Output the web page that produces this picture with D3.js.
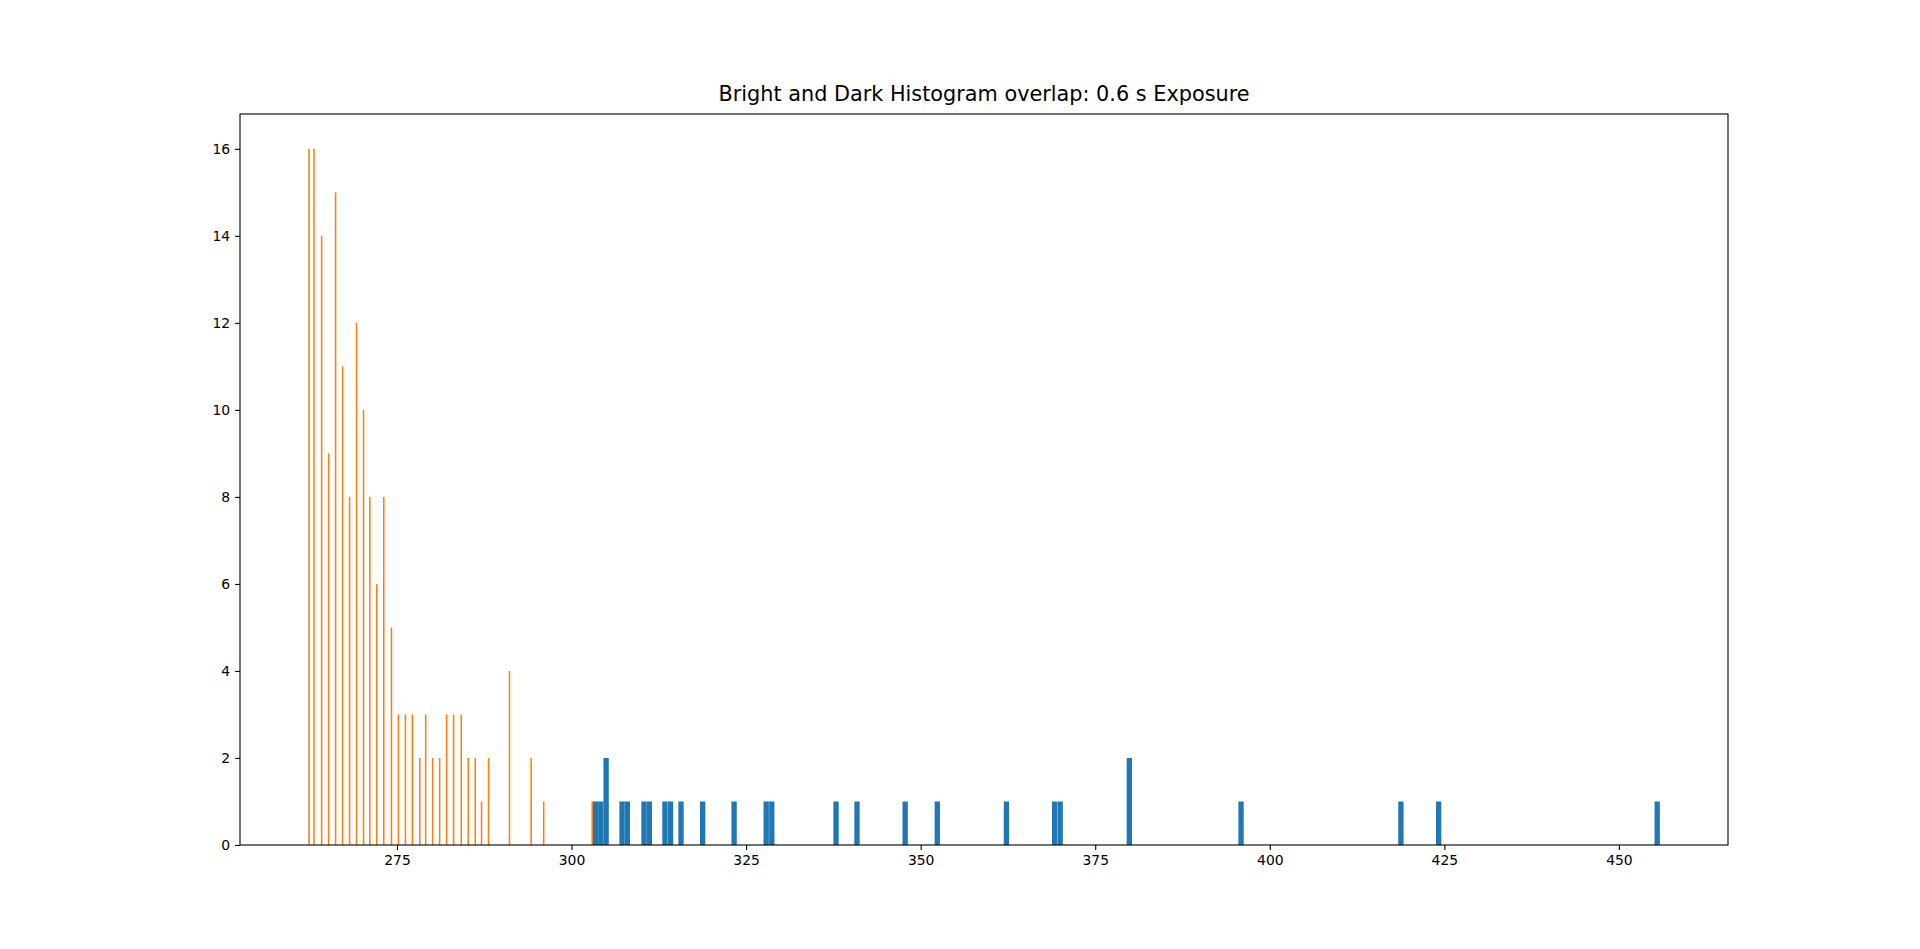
<!DOCTYPE html>
<meta charset="utf-8">
<head>
    <title>Bright and Dark Histogram overlap</title>
    <style>
        body { margin: 0; background: #fff; }
        text { font-family: "DejaVu Sans", sans-serif; }
    </style>
</head>
<body>
    <script src="https://d3js.org/d3.v7.min.js"></script>
    <script>
        // bright frame (blue): bin start and count, common bin width
        var brightWidth = 0.76;
        var brightStarts = [303.05, 303.81, 304.57, 306.85, 307.61, 310.0, 310.76, 313.0, 313.8, 315.3,
            318.4, 322.9, 327.5, 328.3, 337.5, 340.5, 347.4, 352.0, 361.9, 368.8, 369.6,
            379.5, 395.5, 418.4, 423.8, 455.1];
        var brightCounts = [1, 1, 2, 1, 1, 1, 1, 1, 1, 1,
            1, 1, 1, 1, 1, 1, 1, 1, 1, 1, 1,
            2, 1, 1, 1, 1];

        // dark frame (orange)
        var darkWidth = 0.22;
        var darkStarts = [262.3, 263.0, 264.1, 265.1, 266.1, 267.1, 268.1, 269.1, 270.1, 271.0,
            272.0, 273.0, 274.1, 275.1, 276.1, 277.1, 278.15, 279.0, 280.0, 281.0,
            282.0, 283.0, 284.1, 285.1, 286.1, 287.0, 288.0, 291.0, 294.1, 295.9, 302.85];
        var darkCounts = [16, 16, 14, 9, 15, 11, 8, 12, 10, 8,
            6, 8, 5, 3, 3, 3, 2, 3, 2, 2,
            3, 3, 3, 2, 2, 1, 2, 4, 2, 1, 1];

        var xTicks = [275, 300, 325, 350, 375, 400, 425, 450];
        var yTicks = [0, 2, 4, 6, 8, 10, 12, 14, 16];
        var title = "Bright and Dark Histogram overlap: 0.6 s Exposure";

        var W = 1920, H = 949;
        var margin = { top: 114, right: 192, bottom: 104, left: 240 };
        var width = W - margin.left - margin.right,
            height = H - margin.top - margin.bottom;

        var svg = d3.select("body").append("svg")
            .attr("width", W).attr("height", H);

        var x = d3.scaleLinear().domain([252.52, 465.62]).range([0, width]);
        var y = d3.scaleLinear().domain([0, 16.8]).range([height, 0]);

        var g = svg.append("g")
            .attr("transform", "translate(" + margin.left + "," + margin.top + ")");

        var bright = brightStarts.map(function (s, i) { return { x0: s, x1: s + brightWidth, n: brightCounts[i] }; });
        var dark = darkStarts.map(function (s, i) { return { x0: s, x1: s + darkWidth, n: darkCounts[i] }; });

        function drawBars(data, color) {
            g.append("g").selectAll("rect").data(data).enter().append("rect")
                .attr("x", function (d) { return x(d.x0); })
                .attr("width", function (d) { return x(d.x1) - x(d.x0); })
                .attr("y", function (d) { return y(d.n); })
                .attr("height", function (d) { return y(0) - y(d.n); })
                .attr("fill", color);
        }
        drawBars(bright, "#1f77b4");
        drawBars(dark, "#ff7f0e");

        var xAxis = g.append("g").attr("transform", "translate(0," + height + ")")
            .call(d3.axisBottom(x).tickValues(xTicks).tickSize(4.9).tickPadding(4.9).tickFormat(d3.format("d")));
        var yAxis = g.append("g")
            .call(d3.axisLeft(y).tickValues(yTicks).tickSize(4.9).tickPadding(4.9).tickFormat(d3.format("d")));
        [xAxis, yAxis].forEach(function (a) {
            a.select(".domain").remove();
            a.selectAll("line").attr("stroke", "#000").attr("stroke-width", 1.1);
            a.selectAll("text").attr("fill", "#000").style("font-size", "13.9px")
                .style("font-family", "DejaVu Sans, sans-serif");
        });

        g.append("rect")
            .attr("width", width).attr("height", height)
            .attr("fill", "none").attr("stroke", "#000").attr("stroke-width", 1.1);

        svg.append("text")
            .attr("x", margin.left + width / 2).attr("y", 101)
            .attr("text-anchor", "middle")
            .style("font-size", "20.8px")
            .text(title);
    </script>
</body>
</html>
